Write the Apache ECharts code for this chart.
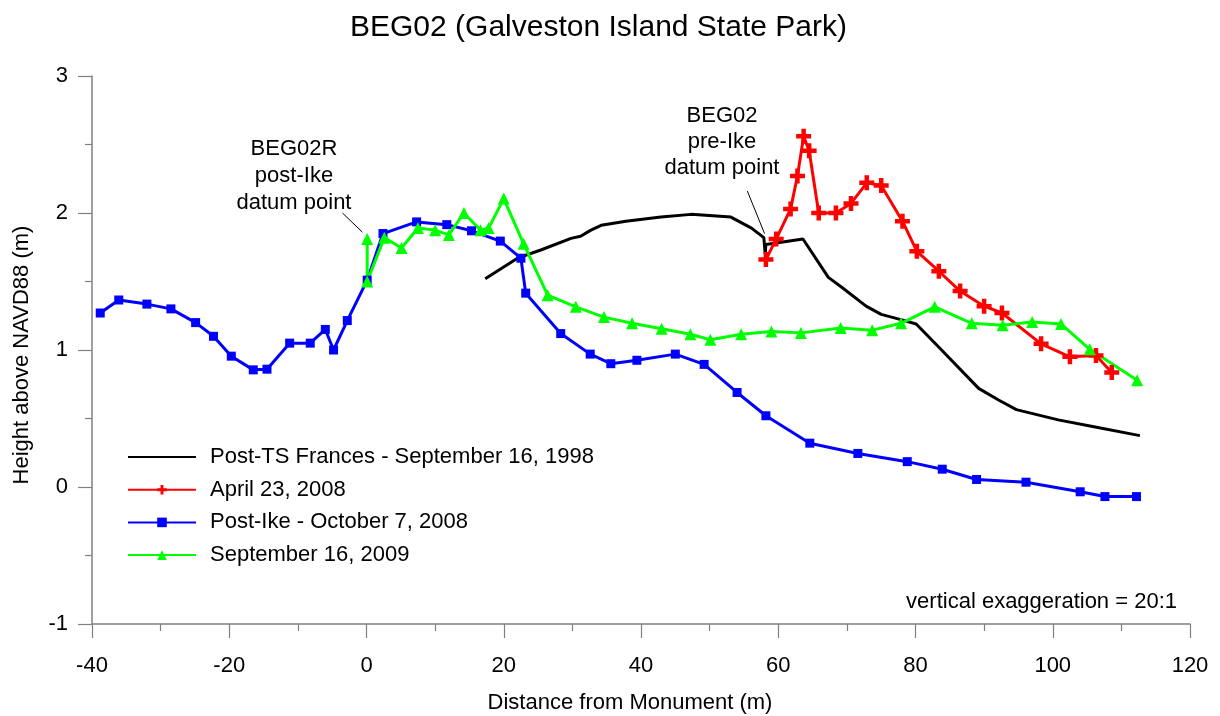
<!DOCTYPE html>
<html>
<head>
<meta charset="utf-8">
<script src="https://cdn.jsdelivr.net/npm/echarts@6/dist/echarts.min.js"></script>
<style>
  html, body { margin: 0; padding: 0; background: #fff; overflow: hidden; }
  #chart { width: 1220px; height: 716px; }
</style>
</head>
<body>
<div id="chart"></div>
<script>
// Post-TS Frances - September 16, 1998 (black, no markers)
var francesX = [17.3, 22.0, 25.4, 29.8, 31.2, 32.7, 34.2, 37.8, 42.9, 47.3, 53.1, 56.1, 57.9, 58.1, 58.2, 63.6, 67.3, 69.2, 72.8, 75.0, 78.0, 80.1, 83.8, 89.2, 92.1, 94.7, 100.8, 106.0, 112.7];
var francesY = [1.52, 1.67, 1.73, 1.815, 1.83, 1.875, 1.91, 1.94, 1.97, 1.99, 1.97, 1.89, 1.82, 1.70, 1.77, 1.81, 1.53, 1.46, 1.32, 1.26, 1.22, 1.19, 1.00, 0.72, 0.635, 0.565, 0.49, 0.44, 0.375];

// April 23, 2008 (red, plus markers)
var aprilX = [58.2, 59.7, 61.8, 62.8, 63.7, 64.5, 65.9, 68.4, 70.6, 72.9, 75.0, 78.1, 80.2, 83.4, 86.5, 90.0, 92.6, 98.3, 102.5, 106.3, 108.6];
var aprilY = [1.66, 1.81, 2.03, 2.27, 2.56, 2.455, 2.00, 2.00, 2.07, 2.22, 2.20, 1.94, 1.72, 1.575, 1.43, 1.32, 1.27, 1.045, 0.95, 0.96, 0.835];

// Post-Ike - October 7, 2008 (blue, square markers)
var ikeX = [-38.8, -36.1, -32.0, -28.5, -24.9, -22.3, -19.7, -16.5, -14.5, -11.2, -8.2, -6.0, -4.8, -2.8, 0.1, 2.4, 7.3, 11.7, 15.3, 19.5, 22.5, 23.2, 28.3, 32.6, 35.6, 39.4, 45.0, 49.2, 54.0, 58.2, 64.6, 71.6, 78.8, 83.9, 88.9, 96.1, 104.0, 107.6, 112.2];
var ikeY = [1.27, 1.365, 1.335, 1.30, 1.20, 1.10, 0.955, 0.855, 0.86, 1.05, 1.05, 1.15, 1.00, 1.215, 1.51, 1.85, 1.935, 1.915, 1.87, 1.795, 1.67, 1.415, 1.12, 0.97, 0.90, 0.925, 0.97, 0.895, 0.69, 0.52, 0.32, 0.245, 0.185, 0.13, 0.055, 0.035, -0.035, -0.07, -0.07];

// September 16, 2009 (green, triangle markers)
var septX = [0.1, 0.1, 2.6, 5.1, 7.5, 10.0, 12.0, 14.2, 16.6, 17.8, 20.0, 22.9, 26.4, 30.5, 34.6, 38.7, 43.0, 47.2, 50.1, 54.6, 59.0, 63.3, 69.1, 73.7, 77.9, 82.8, 88.2, 92.7, 97.0, 101.2, 105.4, 112.3];
var septY = [1.81, 1.50, 1.82, 1.745, 1.89, 1.875, 1.84, 2.00, 1.875, 1.89, 2.105, 1.775, 1.40, 1.315, 1.24, 1.195, 1.155, 1.115, 1.075, 1.115, 1.135, 1.125, 1.16, 1.145, 1.195, 1.315, 1.195, 1.18, 1.205, 1.19, 1.005, 0.78];

var xTicks = { min: -40, max: 120, interval: 20 };
var yTicks = { min: -1, max: 3, interval: 1 };

function pairs(xs, ys) {
  return xs.map(function (x, i) { return [x, ys[i]]; });
}

var font = 'Liberation Sans, Arial, sans-serif';
var plusPath = 'path://M3.5,0H6.5V3.5H10V6.5H6.5V10H3.5V6.5H0V3.5H3.5Z';

var chart = echarts.init(document.getElementById('chart'));

var option = {
  backgroundColor: '#fff',
  animation: false,
  title: {
    text: 'BEG02 (Galveston Island State Park)',
    left: 345,
    top: 8,
    textStyle: { fontFamily: font, fontSize: 30, fontWeight: 'normal', color: '#000' }
  },
  grid: { left: 92, right: 30, top: 76, bottom: 92, containLabel: false, outerBoundsMode: 'none' },
  legend: {
    orient: 'vertical',
    left: 127,
    top: 446,
    padding: 0,
    itemWidth: 68,
    itemHeight: 12,
    itemGap: 10.7,
    textStyle: { fontFamily: font, fontSize: 22, color: '#000', lineHeight: 22, padding: [0, 0, 0, 9] },
    data: [
      { name: 'Post-TS Frances - September 16, 1998', itemStyle: { opacity: 0 } },
      'April 23, 2008',
      'Post-Ike - October 7, 2008',
      'September 16, 2009'
    ]
  },
  xAxis: {
    type: 'value',
    min: xTicks.min,
    max: xTicks.max,
    interval: xTicks.interval,
    name: 'Distance from Monument (m)',
    nameLocation: 'middle',
    nameGap: 68,
    nameTextStyle: { fontFamily: font, fontSize: 22, color: '#000', padding: [0, 22, 0, 0] },
    axisLine: { show: true, onZero: false, lineStyle: { color: '#808080', width: 1.5 } },
    axisTick: { show: true, inside: false, length: 14, lineStyle: { color: '#808080', width: 1.2 } },
    minorTick: { show: true, splitNumber: 2, length: 7, lineStyle: { color: '#808080', width: 1.2 } },
    axisLabel: { margin: 31, fontFamily: font, fontSize: 22, color: '#000' },
    splitLine: { show: false }
  },
  yAxis: {
    type: 'value',
    min: yTicks.min,
    max: yTicks.max,
    interval: yTicks.interval,
    name: 'Height above NAVD88 (m)',
    nameLocation: 'middle',
    nameGap: 59,
    nameTextStyle: { fontFamily: font, fontSize: 22, color: '#000', padding: [0, 10, 0, 0] },
    axisLine: { show: true, onZero: false, lineStyle: { color: '#808080', width: 1.5 } },
    axisTick: { show: true, inside: false, length: 14, lineStyle: { color: '#808080', width: 1.2 } },
    minorTick: { show: true, splitNumber: 2, length: 7, lineStyle: { color: '#808080', width: 1.2 } },
    axisLabel: { margin: 24, fontFamily: font, fontSize: 22, color: '#000' },
    splitLine: { show: false }
  },
  series: [
    {
      name: 'Post-TS Frances - September 16, 1998',
      type: 'line',
      data: pairs(francesX, francesY),
      showSymbol: false,
      symbol: 'none',
      lineStyle: { color: '#000', width: 3 },
      itemStyle: { color: '#000' }
    },
    {
      name: 'Post-Ike - October 7, 2008',
      type: 'line',
      data: pairs(ikeX, ikeY),
      symbol: 'rect',
      symbolSize: 9,
      lineStyle: { color: '#0000ff', width: 3 },
      itemStyle: { color: '#0000ff' }
    },
    {
      name: 'April 23, 2008',
      type: 'line',
      data: pairs(aprilX, aprilY),
      symbol: plusPath,
      symbolSize: 15,
      lineStyle: { color: '#ff0000', width: 3 },
      itemStyle: { color: '#ff0000' }
    },
    {
      name: 'September 16, 2009',
      type: 'line',
      data: pairs(septX, septY),
      symbol: 'triangle',
      symbolSize: 12,
      lineStyle: { color: '#00ff00', width: 3 },
      itemStyle: { color: '#00ff00' }
    }
  ]
};
chart.setOption(option);

// annotations: text placed in pixels, leader lines from data coordinates
var a1 = chart.convertToPixel({ gridIndex: 0 }, [-3.5, 2.0]);
var a1b = chart.convertToPixel({ gridIndex: 0 }, [-0.6, 1.86]);
var a2 = chart.convertToPixel({ gridIndex: 0 }, [55.5, 2.16]);
var a2b = chart.convertToPixel({ gridIndex: 0 }, [58.0, 1.85]);
var txt = { fontFamily: font, fontSize: 22, fill: '#000', align: 'center', lineHeight: 27 };

chart.setOption({
  graphic: [
    { type: 'text', x: 294, y: 135, style: Object.assign({ text: 'BEG02R\npost-Ike\ndatum point' }, txt) },
    { type: 'text', x: 722, y: 103, style: Object.assign({ text: 'BEG02\npre-Ike\ndatum point' }, txt, { lineHeight: 26 }) },
    { type: 'line', shape: { x1: a1[0], y1: a1[1], x2: a1b[0], y2: a1b[1] }, style: { stroke: '#000', lineWidth: 1 } },
    { type: 'line', shape: { x1: a2[0], y1: a2[1], x2: a2b[0], y2: a2b[1] }, style: { stroke: '#000', lineWidth: 1 } },
    { type: 'text', x: 1177, y: 602, style: { text: 'vertical exaggeration = 20:1', fontFamily: font, fontSize: 22, fill: '#000', align: 'right', verticalAlign: 'middle' } }
  ]
});
</script>
</body>
</html>
